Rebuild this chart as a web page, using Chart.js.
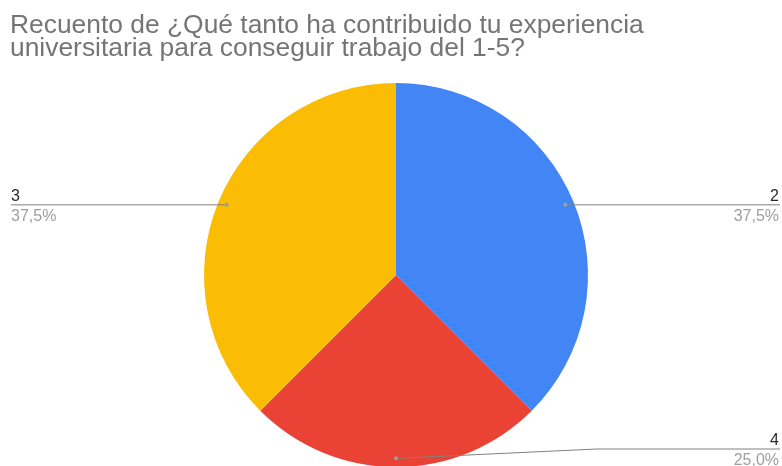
<!DOCTYPE html>
<html>
<head>
<meta charset="utf-8">
<script src="https://cdn.jsdelivr.net/npm/chart.js@4.4.1/dist/chart.umd.min.js"></script>
<style>
  html, body { margin: 0; padding: 0; background: #fff; overflow: hidden; }
  #wrap { width: 782px; height: 470px; }
</style>
</head>
<body>
<div id="wrap"><canvas id="myChart" width="782" height="470"></canvas></div>
<script>
const gTitleLines = [
  'Recuento de ¿Qué tanto ha contribuido tu experiencia',
  'universitaria para conseguir trabajo del 1-5?'
]
const gCategories = ['2', '4', '3']
const gCounts = [3, 2, 3]
const gColors = ['#4285F4', '#EA4335', '#FBBC04']

const gFont = '"Liberation Sans", Arial, sans-serif'

// title at the top left, two lines
const titlePlugin = {
  id: 'sheetTitle',
  afterDraw(chart) {
    const ctx = chart.ctx
    ctx.save()
    ctx.font = `26.4px ${gFont}`
    ctx.fillStyle = '#757575'
    ctx.textAlign = 'left'
    ctx.textBaseline = 'alphabetic'
    ctx.fillText(gTitleLines[0], 10, 33)
    ctx.fillText(gTitleLines[1], 10, 56)
    ctx.restore()
  }
}

// leader lines with category name above and percentage below
const calloutPlugin = {
  id: 'callouts',
  afterDatasetsDraw(chart) {
    const ctx = chart.ctx
    const meta = chart.getDatasetMeta(0)
    const data = chart.data.datasets[0].data
    const total = data.reduce((a, b) => a + b, 0)
    const W = chart.width
    const bottomLimit = 449

    ctx.save()
    meta.data.forEach((arc, i) => {
      const p = arc.getProps(['x', 'y', 'startAngle', 'endAngle', 'outerRadius'], true)
      const mid = (p.startAngle + p.endAngle) / 2
      const r = p.outerRadius * 0.955
      const ax = p.x + Math.cos(mid) * r
      const ay = p.y + Math.sin(mid) * r
      const right = Math.cos(mid) >= -0.001
      const ly = Math.min(ay, bottomLimit)
      const pct = (data[i] / total * 100).toFixed(1).replace('.', ',') + '%'

      ctx.strokeStyle = '#808080'
      ctx.lineWidth = 1
      ctx.beginPath()
      if (right) {
        const elbow = p.x + p.outerRadius + 9
        ctx.moveTo(ax, ay)
        if (ly !== ay) ctx.lineTo(elbow, ly)
        ctx.lineTo(W - 2, ly)
      } else {
        ctx.moveTo(ax, ay)
        ctx.lineTo(11, ly)
      }
      ctx.stroke()

      ctx.fillStyle = '#9e9e9e'
      ctx.beginPath()
      ctx.arc(ax, ay, 2, 0, Math.PI * 2)
      ctx.fill()

      ctx.font = `16px ${gFont}`
      ctx.textBaseline = 'alphabetic'
      ctx.textAlign = right ? 'right' : 'left'
      const tx = right ? W - 3 : 11
      ctx.fillStyle = '#2a2a2a'
      ctx.fillText(chart.data.labels[i], tx, ly - 4)
      ctx.fillStyle = '#9e9e9e'
      ctx.fillText(pct, tx, ly + 16)
    })
    ctx.restore()
  }
}

function displayChart() {
  const ctx = document.getElementById('myChart').getContext('2d')
  new Chart(ctx, {
    type: 'pie',
    data: {
      labels: gCategories,
      datasets: [{
        data: gCounts,
        backgroundColor: gColors,
        borderWidth: 0
      }]
    },
    options: {
      responsive: false,
      animation: false,
      devicePixelRatio: 1,
      layout: {
        padding: { top: 83, bottom: 3, left: 204, right: 194 }
      },
      plugins: {
        legend: { display: false },
        tooltip: { enabled: false },
        title: { display: false }
      }
    },
    plugins: [titlePlugin, calloutPlugin]
  })
}

displayChart()
</script>
</body>
</html>
